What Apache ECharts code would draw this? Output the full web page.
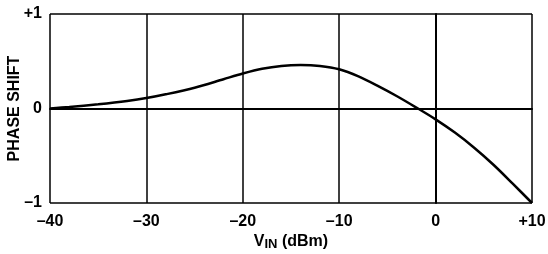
<!DOCTYPE html>
<html>
<head>
<meta charset="utf-8">
<script src="https://cdn.jsdelivr.net/npm/echarts@6/dist/echarts.min.js"></script>
<style>
  html, body { margin: 0; padding: 0; background: #fff; }
  #chart { width: 548px; height: 254px; }
</style>
</head>
<body>
<div id="chart"></div>
<script>
// V_IN in dBm and the phase shift
var vin = [-40, -38, -35, -32, -30, -28, -25, -22, -20, -18, -16, -14, -12, -10, -8, -6, -4, -2, 0, 2, 4, 6, 8, 10];
var phase = [0, 0.015, 0.045, 0.08, 0.11, 0.15, 0.22, 0.31, 0.37, 0.42, 0.45, 0.46, 0.45, 0.415, 0.34, 0.24, 0.13, 0.01, -0.115, -0.255, -0.415, -0.595, -0.795, -1.0];

var font = '"Liberation Sans", Arial, sans-serif';

function signed(v) {
  if (v > 0) return '+' + v;
  if (v < 0) return '\u2013' + (-v);
  return '0';
}

var chart = echarts.init(document.getElementById('chart'));

var option = {
  backgroundColor: '#fff',
  animation: false,
  grid: { left: 50, right: 16, top: 14, bottom: 51, outerBoundsMode: 'none' },
  xAxis: {
    type: 'value',
    min: -40,
    max: 10,
    interval: 10,
    name: '{v|V}{sub|IN}{v| (dBm)}',
    nameLocation: 'middle',
    nameGap: 30,
    nameMoveOverlap: false,
    nameTextStyle: {
      rich: {
        v: { fontFamily: font, fontWeight: 'bold', fontSize: 16, color: '#000' },
        sub: { fontFamily: font, fontWeight: 'bold', fontSize: 13, color: '#000', padding: [5, 0, 0, 0] }
      }
    },
    axisLine: { show: true, lineStyle: { color: '#000', width: 2 } },
    axisTick: { show: false },
    axisLabel: {
      formatter: signed,
      margin: 11,
      color: '#000',
      fontFamily: font,
      fontWeight: 'bold',
      fontSize: 16
    },
    splitLine: { show: true, lineStyle: { color: '#000', width: 1.5 } }
  },
  yAxis: {
    type: 'value',
    min: -1,
    max: 1,
    interval: 1,
    name: 'PHASE SHIFT',
    nameLocation: 'middle',
    nameGap: 27,
    nameMoveOverlap: false,
    nameTextStyle: { fontFamily: font, fontWeight: 'bold', fontSize: 16, color: '#000' },
    axisLine: { show: true, lineStyle: { color: '#000', width: 2 } },
    axisTick: { show: false },
    axisLabel: {
      formatter: signed,
      margin: 8,
      color: '#000',
      fontFamily: font,
      fontWeight: 'bold',
      fontSize: 16
    },
    splitLine: { show: true, lineStyle: { color: '#000', width: 1.5 } }
  },
  series: [{
    type: 'line',
    data: vin.map(function (x, i) { return [x, phase[i]]; }),
    smooth: 0.3,
    symbol: 'none',
    lineStyle: { color: '#000', width: 2.5 }
  }]
};

chart.setOption(option);
</script>
</body>
</html>
